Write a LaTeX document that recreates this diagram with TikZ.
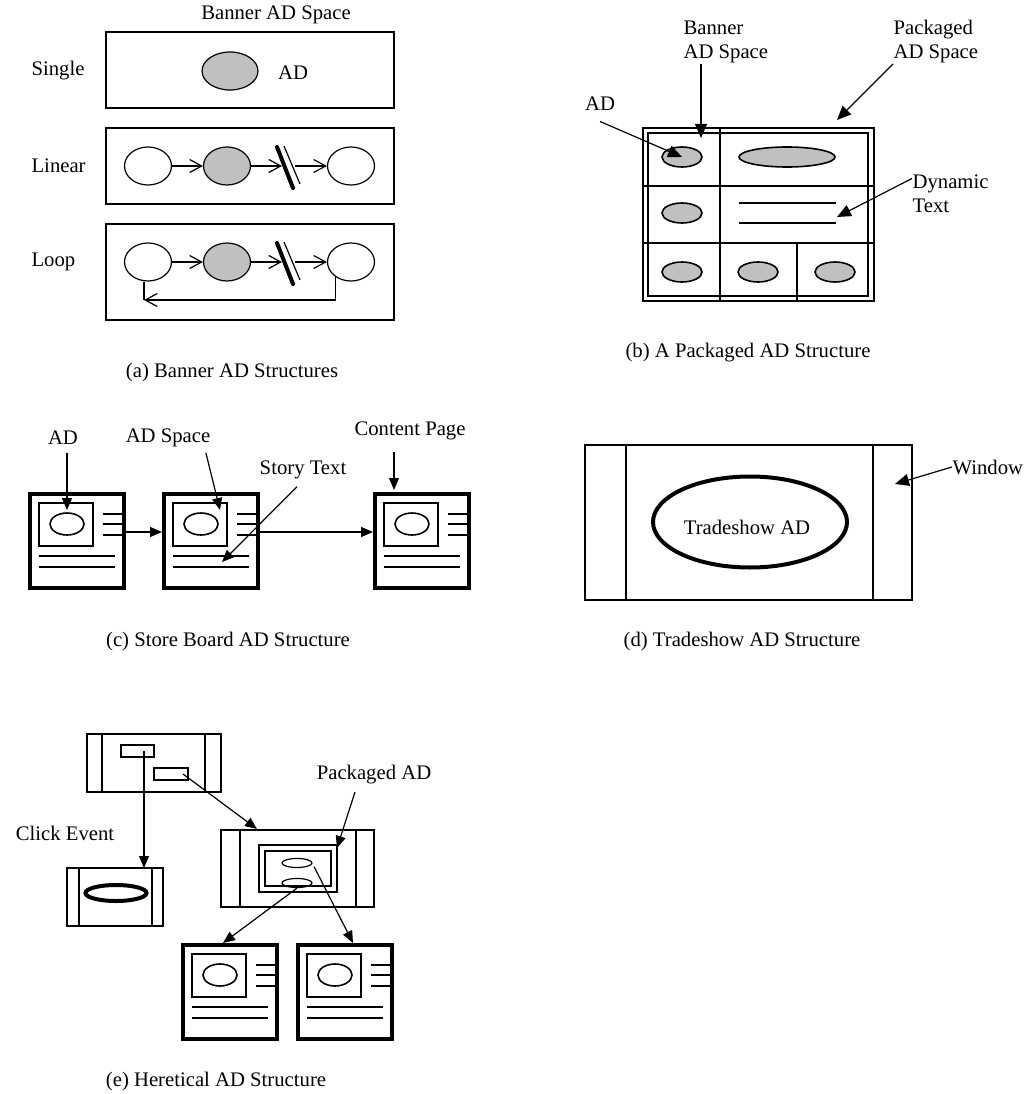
\documentclass[tikz,border=0pt]{standalone}
\usepackage{fontspec}
\setmainfont{Liberation Serif}
\usetikzlibrary{arrows.meta,shapes.geometric}
\definecolor{adgray}{RGB}{192,192,192}

\begin{document}
\begin{tikzpicture}[
    x=1pt, y=-1pt,
    line width=1.2pt,
    >={Triangle[length=12pt, width=10pt]},
    every node/.style={font=\fontsize{20.7}{24}\selectfont, inner sep=2pt},
    openarrow/.style={-{Straight Barb[length=12pt, width=13pt]}},
    bigarrow/.style={-{Triangle[length=14pt, width=12pt]}},
    adoval/.style={ellipse, draw, inner sep=0pt, minimum width=47pt, minimum height=38pt},
    cellad/.style={ellipse, draw, line width=1.6pt, fill=adgray, inner sep=0pt, minimum width=40pt, minimum height=20pt},
    pics/adpage/.style={code={
        \draw[line width=4pt] (2,2) rectangle (96,96);
        \draw[line width=1.6pt] (11,11) rectangle (65,54);
        \draw[line width=1.6pt] (39,32) ellipse [x radius=17pt, y radius=11pt];
        \draw[line width=1.6pt] (75,22) -- (96,22) (75,32) -- (96,32) (75,43) -- (96,43);
        \draw[line width=1.6pt] (11,64) -- (87,64) (11,75) -- (87,75);
        \coordinate (-w) at (0,40);
        \coordinate (-e) at (98,40);
    }}
]

% Canvas
\useasboundingbox (0,0) rectangle (1024,1094);

% (a) Banner AD Structures
\node (bnrTitle) at (276,15) {Banner AD Space};
\draw (106,32) rectangle (394,108);
\draw (106,128) rectangle (394,204);
\draw (106,224) rectangle (394,320);
\node[anchor=west] (single) at (29,71) {Single};
\node[anchor=west] (linear) at (29,166) {Linear};
\node[anchor=west] (loop) at (29,262) {Loop};

% single
\node[adoval, fill=adgray, minimum width=56pt] (s1) at (230,71) {};
\node (sAdLbl) at (293,73) {AD};

% linear
\node[adoval] (l1) at (148,166) {};
\node[adoval, fill=adgray] (l2) at (227,166) {};
\node[adoval] (l3) at (351,166) {};
\coordinate (lcut) at (285,166);
\draw[openarrow] (l1) -- (l2);
\draw[openarrow] (l2) -- ([xshift=-3pt]lcut);
\draw[openarrow] ([xshift=10pt]lcut) -- (l3);
\draw[line width=4pt, line cap=round] ([shift={(-8,-19)}]lcut) -- ([shift={(8,22)}]lcut);
\draw ([shift={(-1,-20)}]lcut) -- ([shift={(15,18)}]lcut);

% loop
\node[adoval] (p1) at (148,262) {};
\node[adoval, fill=adgray] (p2) at (227,262) {};
\node[adoval] (p3) at (351,262) {};
\coordinate (pcut) at (285,262);
\draw[openarrow] (p1) -- (p2);
\draw[openarrow] (p2) -- ([xshift=-3pt]pcut);
\draw[openarrow] ([xshift=10pt]pcut) -- (p3);
\draw[line width=4pt, line cap=round] ([shift={(-8,-19)}]pcut) -- ([shift={(8,22)}]pcut);
\draw ([shift={(-1,-20)}]pcut) -- ([shift={(15,18)}]pcut);
\coordinate (loopL) at (144,300);
\draw (p1.south -| loopL) -- (loopL);
\draw[openarrow] (p3.225) |- (loopL);

\node (capA) at (232,373) {(a) Banner AD Structures};

% (b) A Packaged AD Structure
\draw (643,128) rectangle (874,301);
\draw (648,133) rectangle (868,296);
\draw (720,128) -- (720,301);
\draw (643,186) -- (874,186);
\draw (643,243) -- (874,243);
\draw (797,243) -- (797,301);
\node[cellad] (c11) at (682,157) {};
\node[cellad, minimum width=96pt] (c12) at (787,157) {};
\node[cellad] (c21) at (682,213) {};
\node[cellad] (c31) at (682,272) {};
\node[cellad] (c32) at (758,272) {};
\node[cellad] (c33) at (835,272) {};
\draw[line width=1.6pt] (739,203) -- (836,203);
\draw[line width=1.6pt] (739,223) -- (836,223);

\node[align=left, anchor=west, inner sep=0pt] (bnrLbl) at (683,42) {Banner\\AD Space};
\node[align=left, anchor=west, inner sep=0pt] (pkgLbl) at (893,42) {Packaged\\AD Space};
\node (adLbl) at (600,104) {AD};
\node[align=left, anchor=west, inner sep=0pt] (dynLbl) at (912,194) {Dynamic\\Text};
\coordinate (bnrTip) at (701,138);
\coordinate (pkgTip) at (837,120);
\coordinate (dynTip) at (837,217);
\draw[bigarrow] (bnrLbl.south -| bnrTip) -- (bnrTip);
\draw[bigarrow] (pkgLbl.south west) -- (pkgTip);
\draw[bigarrow] ([yshift=-8pt]adLbl.south) -- (c11.center);
\draw[bigarrow] ([yshift=-4pt]dynLbl.north west) -- (dynTip);

\node (capB) at (748,353) {(b) A Packaged AD Structure};

% (c) Store Board AD Structure
\pic (sb1) at (28,492) {adpage};
\pic (sb2) at (162,492) {adpage};
\pic (sb3) at (373,492) {adpage};
\draw[->] (sb1-e) -- (sb2-w);
\draw[->] (sb2-e) -- (sb3-w);

\node (sbAdLbl) at (63,438) {AD};
\node (sbSpLbl) at (168,438) {AD Space};
\node (sbStLbl) at (303,470) {Story Text};
\node (sbCpLbl) at (410,431) {Content Page};
\coordinate (sbAdTip) at (67,510);
\coordinate (sbSpTip) at (220,510);
\coordinate (sbStTip) at (222,562);
\coordinate (sbCpTip) at (394,490);
\draw[->] ([yshift=-6pt]sbAdLbl.south -| sbAdTip) -- (sbAdTip);
\draw[->] ([xshift=-7pt,yshift=-3pt]sbSpLbl.south east) -- (sbSpTip);
\draw[->] ([xshift=-6pt,yshift=-5pt]sbStLbl.south) -- (sbStTip);
\draw[->] ([yshift=-9pt]sbCpLbl.south -| sbCpTip) -- (sbCpTip);

\node (capC) at (228,642) {(c) Store Board AD Structure};

% (d) Tradeshow AD Structure
\draw (585,445) rectangle (912,600);
\draw (626,445) -- (626,600);
\draw (873,445) -- (873,600);
\node[ellipse, draw, line width=4pt, inner sep=0pt, minimum width=194pt, minimum height=91pt] (tsOval) at (750,522) {};
\node (tsLbl) at (747,527) {Tradeshow AD};
\node[anchor=west, inner sep=0pt] (winLbl) at (952,467) {Window};
\coordinate (winTip) at (895,484);
\draw[bigarrow] (winLbl.west) -- (winTip);

\node (capD) at (742,642) {(d) Tradeshow AD Structure};

% (e) Heretical AD Structure
\draw (87,734) rectangle (221,792);
\draw (102,734) -- (102,792);
\draw (205,734) -- (205,792);
\node[draw, inner sep=0pt, minimum width=33pt, minimum height=12pt] (hrBox1) at (137.5,751) {};
\node[draw, inner sep=0pt, minimum width=34pt, minimum height=12pt] (hrBox2) at (171,774) {};

\node (clickLbl) at (65,833) {Click Event};
\draw (67,868) rectangle (163,926);
\draw (79,868) -- (79,926);
\draw (152,868) -- (152,926);
\node[ellipse, draw, line width=4pt, inner sep=0pt, minimum width=61pt, minimum height=16pt] (hrRing) at (116,893) {};

\draw (221,830) rectangle (374,907);
\draw (240,830) -- (240,907);
\draw (356,830) -- (356,907);
\draw[line width=2pt] (259,845) rectangle (337,892);
\draw[line width=2pt] (265,851) rectangle (331,886);
\node[ellipse, draw, inner sep=0pt, minimum width=30pt, minimum height=9pt] (hrOv1) at (297,863) {};
\node[ellipse, draw, inner sep=0pt, minimum width=30pt, minimum height=9pt] (hrOv2) at (297,883) {};
\node (hrPkgLbl) at (374,775) {Packaged AD};

\pic (hrA) at (181,943) {adpage};
\pic (hrB) at (296,943) {adpage};

\coordinate (hrClickTip) at (144,868);
\coordinate (hrWinTip) at (257,829);
\coordinate (hrPkgTip) at (337,848);
\coordinate (hrATip) at (223,943);
\coordinate (hrBTip) at (353,943);
\draw[->] (hrBox1.center -| hrClickTip) -- (hrClickTip);
\draw[->] ([xshift=12pt]hrBox2.center) -- (hrWinTip);
\draw[->] ([xshift=-19pt,yshift=-5pt]hrPkgLbl.south) -- (hrPkgTip);
\draw[->] (hrOv2.south) -- (hrATip);
\draw[->] ([xshift=6pt]hrOv1.south east) -- (hrBTip);

\node (capE) at (216,1082) {(e) Heretical AD Structure};

\end{tikzpicture}
\end{document}
